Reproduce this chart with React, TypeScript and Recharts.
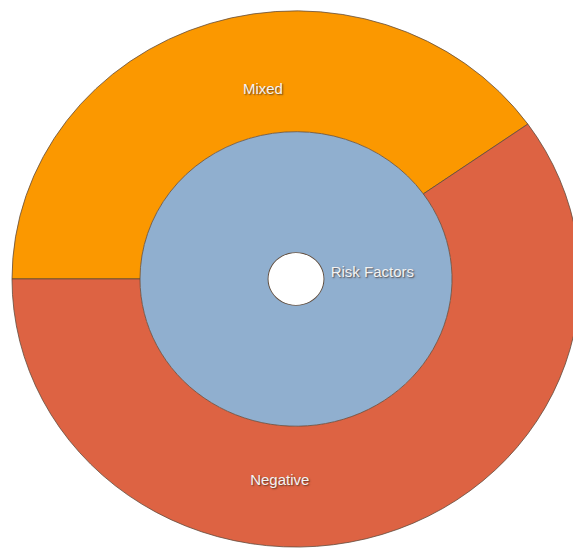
import React from "react";
import { PieChart, Pie, Cell } from "recharts";

const innerCategories = ["Risk Factors"];
const innerValues = [100];
const outerCategories = ["Mixed", "Negative"];
const outerValues = [40.2, 59.8];

const innerData = innerCategories.map((name, i) => ({ name, value: innerValues[i] }));
const outerData = outerCategories.map((name, i) => ({ name, value: outerValues[i] }));

const INNER_COLORS = ["#90AFCF"];
const OUTER_COLORS = ["#FB9800", "#DD6343"];
const STROKE = "#5e4b3c";
const RAD = Math.PI / 180;
const SCALE_Y = 0.944;

// label placement style tweaks (angle shift in degrees, radial fraction)
const LABEL_SHIFT: Record<string, number> = { Mixed: -8.3, Negative: -22, "Risk Factors": 5 };
const LABEL_FRAC: Record<string, number> = { Mixed: 0.375, Negative: 0.45, "Risk Factors": 0.38 };

const labelStyle: React.CSSProperties = {
  fontFamily: "'Liberation Sans', Arial, sans-serif",
  fontSize: 15,
  fill: "#f3f3f3",
  textShadow: "1px 1px 1.5px rgba(60,40,30,0.75)",
};

const renderLabel = (props: any) => {
  const { cx, cy, midAngle, innerRadius, outerRadius, name } = props;
  const ang = midAngle + (LABEL_SHIFT[name] ?? 0);
  const r = innerRadius + (outerRadius - innerRadius) * (LABEL_FRAC[name] ?? 0.5);
  const x = cx + r * Math.cos(-ang * RAD);
  const y = cy + r * Math.sin(-ang * RAD);
  return (
    <text x={x} y={y} textAnchor="middle" dominantBaseline="central" style={labelStyle}>
      {name}
    </text>
  );
};

export default function App() {
  return (
    <div
      style={{
        position: "fixed",
        left: 0,
        top: 0,
        width: 573,
        height: 549,
        overflow: "hidden",
        background: "#ffffff",
      }}
    >
      <div style={{ transform: `scaleY(${SCALE_Y})`, transformOrigin: "top left" }}>
        <PieChart width={573} height={582} margin={{ top: 0, right: 0, bottom: 0, left: 0 }}>
          <Pie
            data={innerData}
            dataKey="value"
            nameKey="name"
            cx={296}
            cy={295.5}
            innerRadius={28}
            outerRadius={156}
            startAngle={180}
            endAngle={-180}
            stroke="none"
            label={renderLabel}
            labelLine={false}
            isAnimationActive={false}
          >
            {innerData.map((d, i) => (
              <Cell key={d.name} fill={INNER_COLORS[i]} />
            ))}
          </Pie>
          {/* thin outline ring around the centre hole */}
          <Pie
            data={innerData}
            dataKey="value"
            nameKey="name"
            cx={296}
            cy={295.5}
            innerRadius={27.5}
            outerRadius={28.4}
            startAngle={180}
            endAngle={-180}
            stroke="none"
            fill={STROKE}
            isAnimationActive={false}
          />
          <Pie
            data={outerData}
            dataKey="value"
            nameKey="name"
            cx={296}
            cy={295.5}
            innerRadius={156}
            outerRadius={284}
            startAngle={180}
            endAngle={-180}
            stroke={STROKE}
            strokeWidth={0.8}
            label={renderLabel}
            labelLine={false}
            isAnimationActive={false}
          >
            {outerData.map((d, i) => (
              <Cell key={d.name} fill={OUTER_COLORS[i]} />
            ))}
          </Pie>
        </PieChart>
      </div>
    </div>
  );
}
